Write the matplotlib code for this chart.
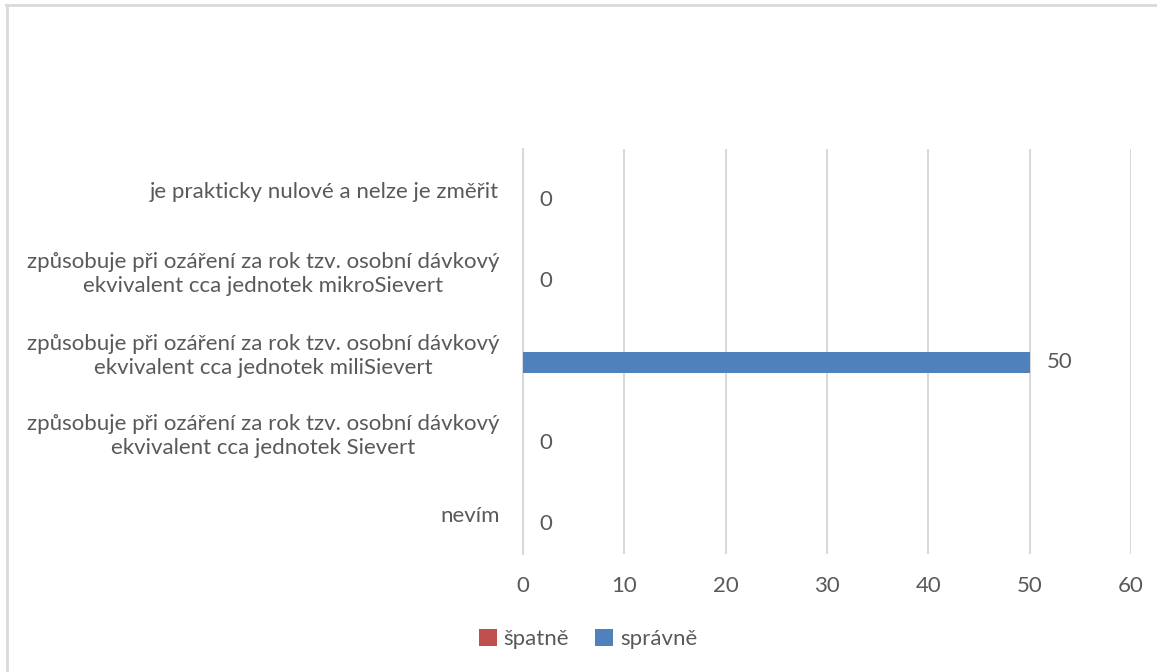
import numpy as np
import matplotlib.pyplot as plt
from matplotlib.lines import Line2D

plt.rcParams['font.family'] = ['Lato', 'DejaVu Sans']

# Odpovědi (shora dolů) a počty
odpovedi = [
    'je prakticky nulové a nelze je změřit',
    'způsobuje při ozáření za rok tzv. osobní dávkový\nekvivalent cca jednotek mikroSievert',
    'způsobuje při ozáření za rok tzv. osobní dávkový\nekvivalent cca jednotek miliSievert',
    'způsobuje při ozáření za rok tzv. osobní dávkový\nekvivalent cca jednotek Sievert',
    'nevím',
]
spatne = [0, 0, 0, 0, 0]
spravne = [0, 0, 50, 0, 0]
osa_x = [0, 10, 20, 30, 40, 50, 60]

seda = '#595959'
W, H = 1157, 672
fig = plt.figure(figsize=(W / 100, H / 100), dpi=100)
ax = fig.add_axes([523 / W, 1 - 554 / H, (1131 - 523) / W, (554 - 149) / H])

# rámeček grafu (horní a levá hrana)
for xs, ys in [([6, W], [5, 5]), ([7, 7], [5, H])]:
    fig.add_artist(Line2D([x / W for x in xs], [1 - y / H for y in ys],
                          transform=fig.transFigure, color='#d9d9d9',
                          linewidth=2))

y = np.arange(len(odpovedi))
vyska = 0.27
ax.barh(y - vyska / 2, spatne, height=vyska, color='#c0504d', label='špatně', zorder=3)
ax.barh(y + vyska / 2, spravne, height=vyska, color='#4f81bd', label='správně', zorder=3)

for yi, v in zip(y, spravne):
    ax.annotate(str(v), (v, yi + vyska / 2), xytext=(12, 0),
                textcoords='offset points', ha='left', va='center',
                fontsize=16, color=seda)

ax.set_yticks(y)
ax.set_yticklabels(odpovedi, fontsize=16, color=seda, linespacing=1.25,
                   multialignment='center')
ax.tick_params(axis='y', length=0, pad=17)
ax.set_ylim(len(odpovedi) - 0.5, -0.5)

ax.set_xlim(0, 60)
ax.set_xticks(osa_x)
ax.tick_params(axis='x', length=0, labelsize=16, labelcolor=seda, pad=16)
ax.grid(axis='x', color='#d9d9d9', linewidth=1.5, zorder=0)
for s in ['top', 'right', 'bottom']:
    ax.spines[s].set_visible(False)
ax.spines['left'].set_color('#d9d9d9')
ax.spines['left'].set_linewidth(1.5)

ax.legend(loc='center', bbox_to_anchor=(588 / W, 1 - 639 / H),
          bbox_transform=fig.transFigure, ncol=2, frameon=False,
          fontsize=16, labelcolor=seda, handlelength=0.8, handleheight=0.8,
          handletextpad=0.3, columnspacing=1.2)

fig.savefig('out.png', dpi=100)
